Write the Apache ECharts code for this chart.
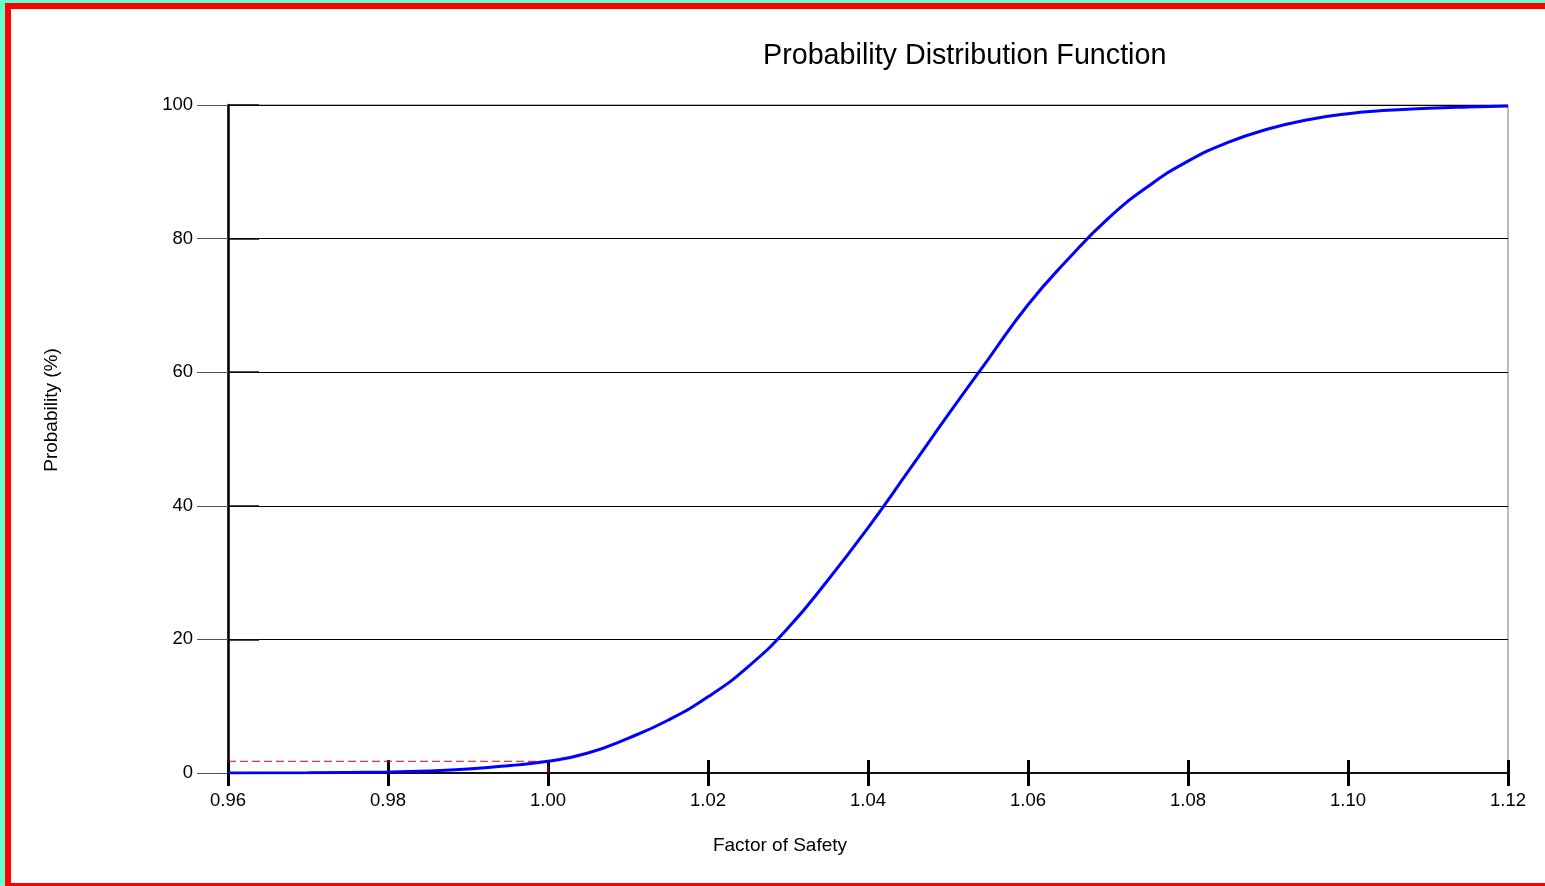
<!DOCTYPE html>
<html>
<head>
<meta charset="utf-8">
<script src="https://cdn.jsdelivr.net/npm/echarts@6/dist/echarts.min.js"></script>
<style>
  html, body { margin: 0; padding: 0; width: 1545px; height: 886px; overflow: hidden; background: #66FFCC; }
  #frame { position: absolute; left: 5px; top: 3px; width: 2000px; height: 886px; box-sizing: border-box; border: 6px solid #FF0000; background: #FFFFFF; }
  #chart { position: absolute; left: 0; top: 0; width: 1545px; height: 886px; }
</style>
</head>
<body>
<div id="frame"></div>
<div id="chart"></div>
<script>
// Factor of Safety (x) and cumulative probability in % (y)
const factorOfSafety = [0.96, 0.97, 0.98, 0.985, 0.99, 0.995, 1.00, 1.005, 1.01, 1.015, 1.02, 1.025, 1.03, 1.035, 1.04, 1.045, 1.05, 1.055, 1.06, 1.065, 1.07, 1.075, 1.08, 1.085, 1.09, 1.095, 1.10, 1.105, 1.11, 1.115, 1.12];
const probability = [0.0, 0.05, 0.15, 0.3, 0.6, 1.1, 1.75, 3.0, 5.2, 7.9, 11.4, 15.9, 21.7, 28.9, 36.7, 45.1, 53.6, 61.9, 70.1, 76.9, 83.0, 87.8, 91.6, 94.4, 96.4, 97.8, 98.7, 99.2, 99.5, 99.7, 99.85];
// Probability of failure marker (FS = 1.00)
const failureFS = [0.96, 1.00, 1.00];
const failureProb = [1.75, 1.75, 0];
const xTicks = { min: 0.96, max: 1.12, step: 0.02 };
const yTicks = { min: 0, max: 100, step: 20 };
const titleText = 'Probability Distribution Function';
const xName = 'Factor of Safety';
const yName = 'Probability (%)';

const FONT = '"Liberation Sans", Arial, sans-serif';
const chart = echarts.init(document.getElementById('chart'), null, { renderer: 'canvas' });

const curve = factorOfSafety.map((x, i) => [x, probability[i]]);
const marker = failureFS.map((x, i) => [x, failureProb[i]]);

chart.setOption({
  backgroundColor: 'transparent',
  animation: false,
  title: {
    text: titleText,
    left: 758, top: 37,
    textStyle: { fontFamily: FONT, fontSize: 28.7, fontWeight: 'normal', color: '#000' }
  },
  grid: {
    left: 228, top: 105, width: 1280, height: 668,
    show: true, borderColor: '#777', borderWidth: 1, backgroundColor: 'transparent'
  },
  xAxis: [
    {
      type: 'value', min: xTicks.min, max: xTicks.max, interval: xTicks.step,
      position: 'bottom',
      axisLine: { show: true, onZero: false, lineStyle: { color: '#111', width: 2 } },
      axisTick: { show: true, inside: false, length: 13, lineStyle: { color: '#000', width: 3 } },
      axisLabel: { margin: 18, fontFamily: FONT, fontSize: 18.5, color: '#000', formatter: v => v.toFixed(2) },
      splitLine: { show: false }
    },
    {
      type: 'value', min: xTicks.min, max: xTicks.max, interval: xTicks.step,
      position: 'bottom',
      axisLine: { show: false, onZero: false },
      axisTick: { show: true, inside: true, length: 13, lineStyle: { color: '#000', width: 3 } },
      axisLabel: { show: false },
      splitLine: { show: false }
    }
  ],
  yAxis: [
    {
      type: 'value', min: yTicks.min, max: yTicks.max, interval: yTicks.step,
      position: 'left',
      axisLine: { show: true, onZero: false, lineStyle: { color: '#000', width: 2.5 } },
      axisTick: { show: true, inside: false, length: 31, lineStyle: { color: '#555', width: 1 } },
      axisLabel: { margin: 35, fontFamily: FONT, fontSize: 18.5, color: '#000' },
      splitLine: { show: true, lineStyle: { color: '#000', width: 1 } }
    },
    {
      type: 'value', min: yTicks.min, max: yTicks.max, interval: yTicks.step,
      position: 'left',
      axisLine: { show: false, onZero: false },
      axisTick: { show: true, inside: true, length: 31, lineStyle: { color: '#111', width: 1.5 } },
      axisLabel: { show: false },
      splitLine: { show: false }
    }
  ],
  graphic: [
    {
      type: 'text', x: 52, y: 410, rotation: Math.PI / 2,
      style: { text: yName, fontFamily: FONT, fontSize: 19, fill: '#000', textAlign: 'center', textVerticalAlign: 'middle' }
    },
    {
      type: 'text', x: 780, y: 846,
      style: { text: xName, fontFamily: FONT, fontSize: 19, fill: '#000', textAlign: 'center', textVerticalAlign: 'middle' }
    }
  ],
  series: [
    {
      type: 'line', xAxisIndex: 0, yAxisIndex: 0,
      data: marker, showSymbol: false, symbol: 'none', z: 3,
      lineStyle: { color: '#FF0000', width: 1, type: [8, 4] }
    },
    {
      type: 'line', xAxisIndex: 0, yAxisIndex: 0,
      data: curve, smooth: 0.5, showSymbol: false, symbol: 'none', z: 4,
      lineStyle: { color: '#0000FF', width: 3 }
    }
  ]
});
</script>
</body>
</html>
